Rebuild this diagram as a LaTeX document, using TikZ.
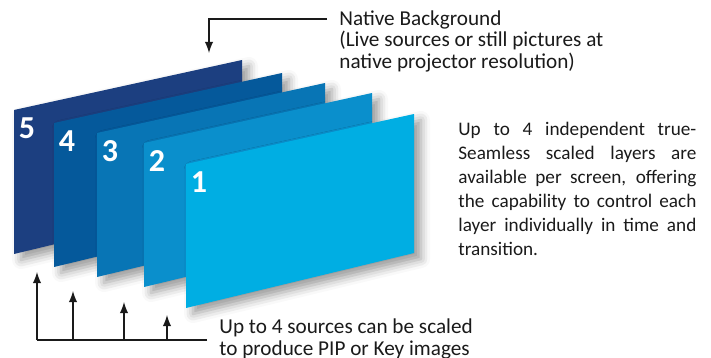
\documentclass[tikz,border=0pt]{standalone}
\usepackage{fontspec}
\setmainfont{Carlito}
\usetikzlibrary{shadows.blur}
\definecolor{layerfive}{HTML}{1C3F80}
\definecolor{layerfour}{HTML}{05599B}
\definecolor{layerthree}{HTML}{0875B5}
\definecolor{layertwo}{HTML}{0A8FCC}
\definecolor{layerone}{HTML}{00AEE3}
\definecolor{inkgray}{HTML}{1A1A1A}
\tikzset{
	layer/.style={blur shadow={shadow xshift=3.5pt,shadow yshift=-3pt,shadow blur radius=4.5pt,shadow opacity=40}},
	layernum/.style={text=white,font=\fontsize{16}{16}\selectfont\bfseries,inner sep=0pt},
	callout/.style={align=left,anchor=north west,inner xsep=6pt,inner ysep=0pt,font=\fontsize{10.6}{10.75}\selectfont,text=inkgray},
	pointer/.style={-latex,line width=0.9pt,inkgray},
}
\begin{document}
\begin{tikzpicture}[x=0.5pt,y=-0.5pt]
	\useasboundingbox (0,0) rectangle (711,358);
	% stacked layers, back to front
	\foreach \n/\x/\y/\c in {5/14/110/layerfive,4/54/123/layerfour,3/97/133/layerthree,2/144/143/layertwo,1/186/164/layerone}{
		\fill[\c,layer] (\x,\y) -- ++(228,-50) -- ++(0,139) -- (\x,\y+144) -- cycle;
		\node[layernum] (num\n) at (\x+13,\y+18) {\n};
	}
	% native background callout
	\node[callout] (bg) at (327,10) {Native Background\\(Live sources or still pictures at\\native projector resolution)};
	\coordinate (bgturn) at (209,19);
	\coordinate (bgtip) at (209,53);
	\draw[pointer] (bg.west |- bgturn) -- (bgturn) -- (bgtip);
	% scaled sources callout
	\node[callout,anchor=west] (src) at (207,339) {Up to 4 sources can be scaled\\to produce PIP or Key images};
	\coordinate (srcend) at (37,340);
	\draw[line width=0.9pt,inkgray] (src.west |- srcend) -- (srcend);
	\foreach \i/\x/\tip in {1/37/272,2/73/291,3/124/302,4/167/315}{
		\coordinate (foot\i) at (\x,340);
		\coordinate (tip\i) at (\x,\tip);
		\draw[pointer] (foot\i) -- (tip\i);
	}
	% description
	\node[anchor=north west,inner sep=0pt,text width=119pt,align=justify,font=\fontsize{9.6}{12}\selectfont,text=inkgray] (desc) at (458,122) {Up to 4 independent true-\linebreak Seamless scaled layers are\linebreak available per screen, offering\linebreak the capability to control each\linebreak layer individually in time and\linebreak transition.};
\end{tikzpicture}
\end{document}
